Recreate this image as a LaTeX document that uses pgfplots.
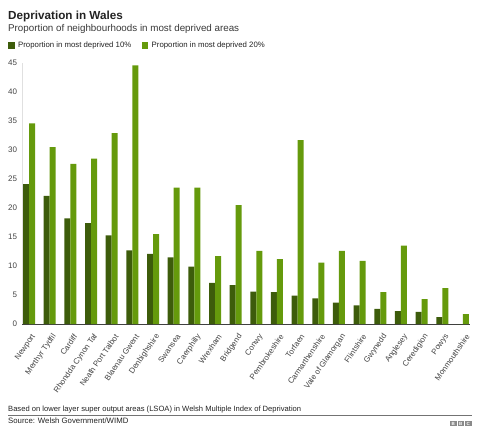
\documentclass[border=0pt]{standalone}
\usepackage{pgfplots}
\pgfplotsset{compat=1.18}
\usepackage{pgfplotstable}
\usepackage{fontspec}
\setmainfont{Liberation Sans}
\definecolor{darkg}{HTML}{3D5C0B}
\definecolor{lightg}{HTML}{659A0C}
\definecolor{txt}{HTML}{222222}
\definecolor{bbcg}{HTML}{8A8A8A}

\pgfplotstableread{
x name d10 d20
0  Newport 24.1 34.6
1  {Merthyr Tydfil} 22.1 30.5
2  Cardiff 18.2 27.6
3  {Rhondda Cynon Taf} 17.4 28.5
4  {Neath Port Talbot} 15.3 32.9
5  {Blaenau Gwent} 12.7 44.6
6  Denbighshire 12.1 15.5
7  Swansea 11.5 23.5
8  Caerphilly 9.9 23.5
9  Wrexham 7.1 11.7
10 Bridgend 6.7 20.5
11 Conwy 5.6 12.6
12 Pembrokeshire 5.5 11.2
13 Torfaen 4.9 31.7
14 Carmarthenshire 4.4 10.6
15 {Vale of Glamorgan} 3.7 12.6
16 Flintshire 3.2 10.9
17 Gwynedd 2.6 5.5
18 Anglesey 2.2 13.5
19 Ceredigion 2.1 4.3
20 Powys 1.2 6.2
21 Monmouthshire 0 1.7
}\data

\begin{document}
\begin{tikzpicture}
\useasboundingbox (0,0) rectangle (480pt,437pt);
\node[anchor=base west, inner sep=0pt, text=txt, font=\bfseries\fontsize{11.7}{14}\selectfont] at (8pt,417pt) {Deprivation in Wales};
\node[anchor=base west, inner sep=0pt, text=txt!90, font=\fontsize{9.8}{12}\selectfont] at (8pt,405.3pt) {Proportion of neighbourhoods in most deprived areas};
% legend
\fill[darkg] (8pt,388.3pt) rectangle (14.7pt,395pt);
\node[anchor=base west, inner sep=0pt, text=txt, font=\fontsize{7.8}{9}\selectfont] at (18pt,389pt) {Proportion in most deprived 10\%};
\fill[lightg] (141.7pt,388.3pt) rectangle (148.4pt,395pt);
\node[anchor=base west, inner sep=0pt, text=txt, font=\fontsize{7.8}{9}\selectfont] at (151.5pt,389pt) {Proportion in most deprived 20\%};

\begin{axis}[
  at={(22pt,113pt)}, anchor=south west,
  scale only axis, width=448pt, height=261pt,
  xmin=-0.339, xmax=21.339, ymin=0, ymax=45,
  clip=false,
  axis x line*=bottom, axis y line*=left,
  x axis line style={draw=black!75, line width=0.8pt, -},
  y axis line style={draw=black!12, line width=0.5pt, -},
  major tick length=0pt,
  ytick={0,5,...,45},
  xtick=data,
  xticklabels from table={\data}{name},
  /pgf/number format/assume math mode=true,
  yticklabel style={font=\fontsize{8}{9}\selectfont, text=txt!85, inner sep=0pt, anchor=east, xshift=-4.7pt},
  xticklabel style={font=\fontsize{7.9}{9}\selectfont, text=txt!85, inner sep=0pt, xshift=5pt, yshift=-11pt, rotate=55, anchor=east},
  ybar, bar width=6pt,
]
\addplot[fill=darkg, draw=none, bar shift=-3pt] table[x=x, y=d10] {\data};
\addplot[fill=lightg, draw=none, bar shift=3pt] table[x=x, y=d20] {\data};
\end{axis}

\node[anchor=base west, inner sep=0pt, text=txt, font=\fontsize{7.6}{9}\selectfont] at (8pt,25pt) {Based on lower layer super output areas (LSOA) in Welsh Multiple Index of Deprivation};
\draw[black!55, line width=0.6pt] (8pt,21.3pt) -- (472pt,21.3pt);
\node[anchor=base west, inner sep=0pt, text=txt, font=\fontsize{7.8}{9}\selectfont] at (8pt,13.3pt) {Source: Welsh Government/WIMD};
\foreach \i/\l in {0/B,1/B,2/C}{
  \fill[bbcg] ({450pt+\i*7.5pt},11pt) rectangle ({456.5pt+\i*7.5pt},16pt);
  \node[text=white, inner sep=0pt, font=\bfseries\fontsize{4.5}{5}\selectfont] at ({453.25pt+\i*7.5pt},13.5pt) {\l};
}
\end{tikzpicture}
\end{document}
